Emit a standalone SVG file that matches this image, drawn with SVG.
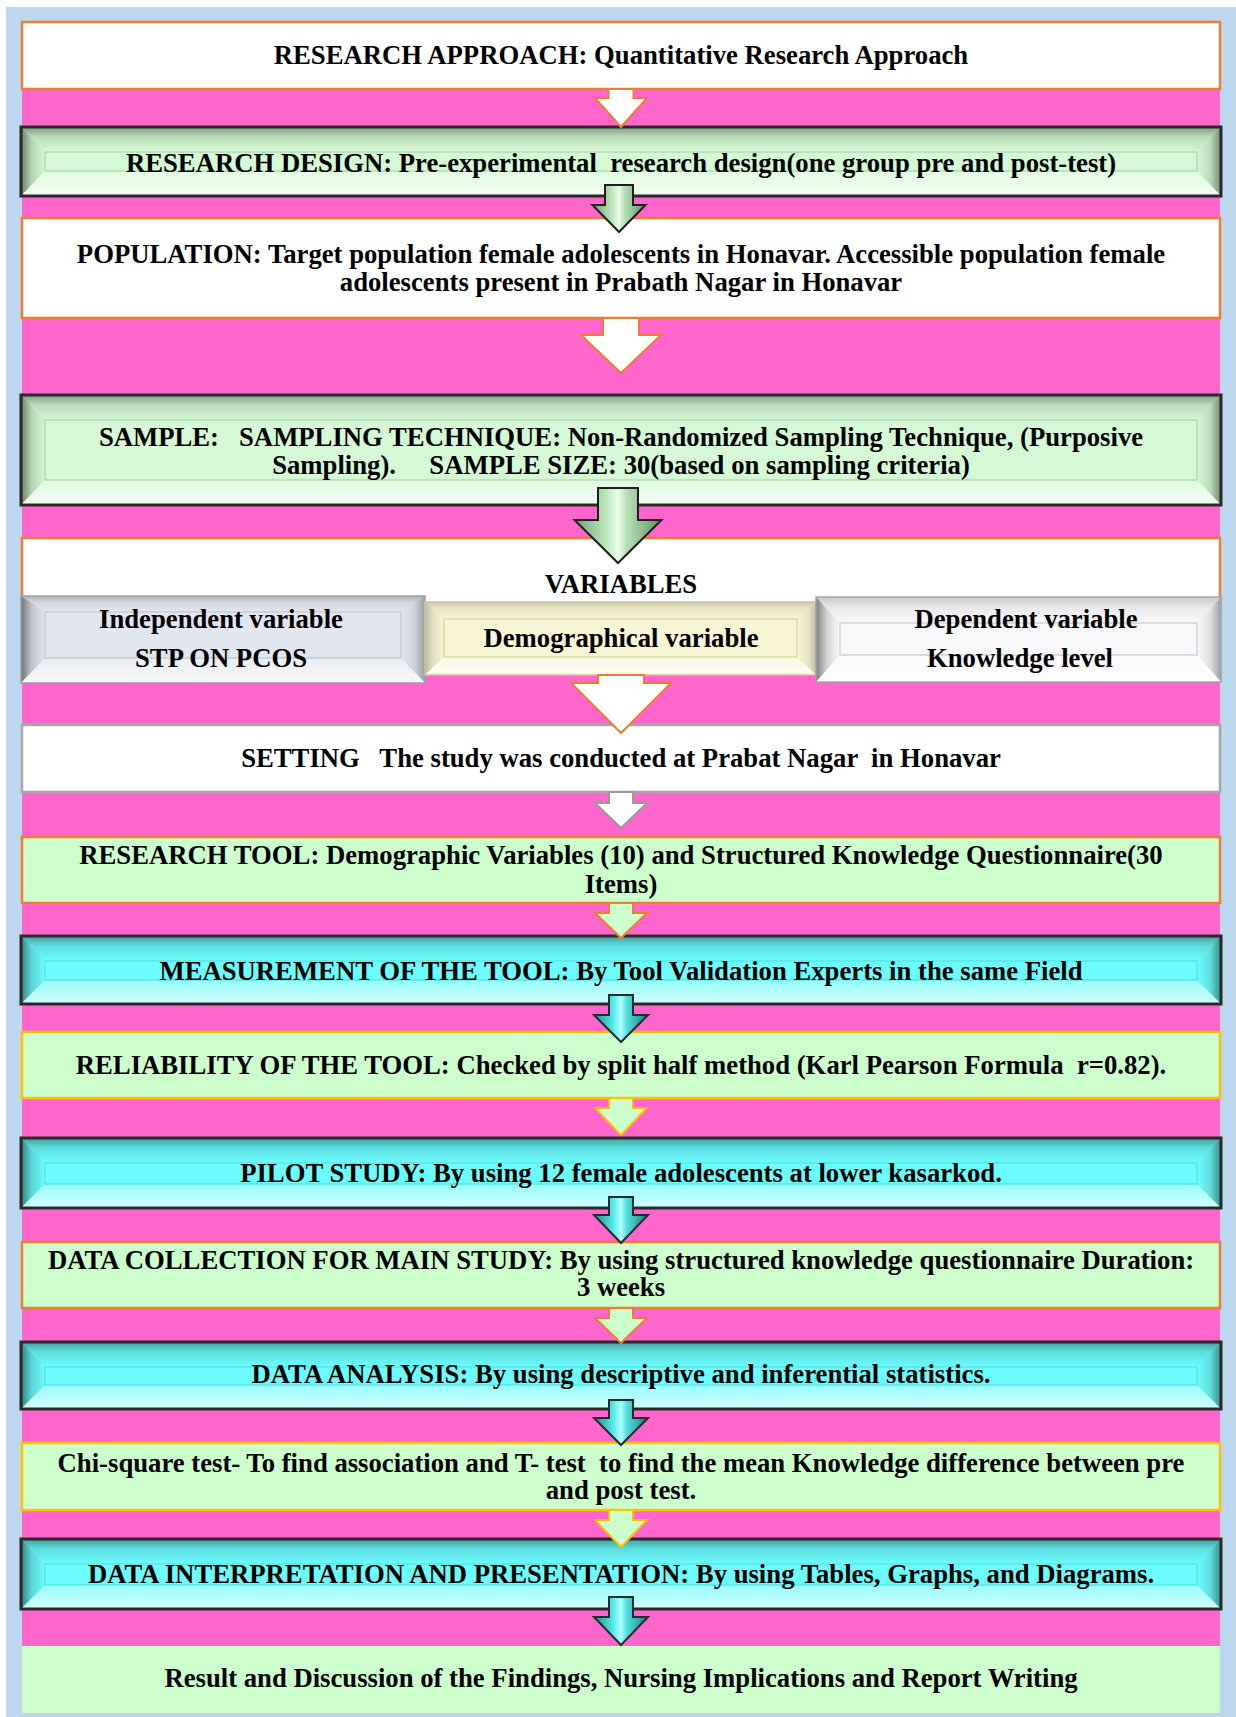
<svg xmlns="http://www.w3.org/2000/svg" width="1236" height="1717" viewBox="0 0 1236 1717">
<style>
.t{font-family:"Liberation Serif","Times New Roman",serif;font-weight:bold;font-size:26.7px;text-anchor:middle;fill:#000;white-space:pre}
.flat{stroke-width:2.5}
.w{fill:#ffffff}
.lg{fill:#ccffcc}
.or{stroke:#ed7d31}
.gd{stroke:#ffc000}
.gy{stroke:#a6a6a6}
.bout{fill:none;stroke:#2a2a2a;stroke-width:3}
.inner{fill:none;stroke-width:1.5}
.aw{fill:#ffffff;stroke:#ed7d31;stroke-width:2}
.awg{fill:#ffffff;stroke:#9a9a9a;stroke-width:2}
.alo{fill:#ccffcc;stroke:#ed7d31;stroke-width:2}
.aly{fill:#ccffcc;stroke:#ffc000;stroke-width:2}
.agr{fill:url(#arrG);stroke:#1e1e1e;stroke-width:2}
.acy{fill:url(#arrC);stroke:#1e2e2e;stroke-width:2}
</style>
<defs>
<linearGradient id="shTop" x1="0" y1="0" x2="0" y2="1"><stop offset="0" stop-color="#000" stop-opacity="0.38"/><stop offset="0.4" stop-color="#000" stop-opacity="0.12"/><stop offset="1" stop-color="#000" stop-opacity="0"/></linearGradient>
<linearGradient id="shLeft" x1="0" y1="0" x2="1" y2="0"><stop offset="0" stop-color="#000" stop-opacity="0.5"/><stop offset="0.45" stop-color="#000" stop-opacity="0.15"/><stop offset="1" stop-color="#000" stop-opacity="0"/></linearGradient>
<linearGradient id="shRight" x1="1" y1="0" x2="0" y2="0"><stop offset="0" stop-color="#000" stop-opacity="0.45"/><stop offset="0.45" stop-color="#000" stop-opacity="0.12"/><stop offset="1" stop-color="#000" stop-opacity="0"/></linearGradient>
<linearGradient id="shBot" x1="0" y1="1" x2="0" y2="0"><stop offset="0" stop-color="#fff" stop-opacity="0.7"/><stop offset="1" stop-color="#fff" stop-opacity="0.3"/></linearGradient>
<linearGradient id="arrG" x1="0" y1="0" x2="1" y2="0"><stop offset="0" stop-color="#6f9f6f"/><stop offset="0.35" stop-color="#b8e4b8"/><stop offset="0.5" stop-color="#e8ffe8"/><stop offset="0.6" stop-color="#b8e0b8"/><stop offset="1" stop-color="#5f8f5f"/></linearGradient>
<linearGradient id="arrC" x1="0" y1="0" x2="1" y2="0"><stop offset="0" stop-color="#1f8a8a"/><stop offset="0.35" stop-color="#55e8e8"/><stop offset="0.5" stop-color="#b0ffff"/><stop offset="0.6" stop-color="#55e0e0"/><stop offset="1" stop-color="#1a7a7a"/></linearGradient>
</defs>

<rect x="6" y="7" width="1230" height="1710" fill="#bdd7ee"/>
<rect x="22" y="89" width="1198" height="1557" fill="#ff66cc"/>

<g id="nodes">
<g id="research-approach">
<rect x="22" y="22" width="1198" height="67" class="flat w or"/>
<text x="621" y="64" class="t">RESEARCH APPROACH: Quantitative Research Approach</text>
</g>

<g id="research-design">
<rect x="21" y="127" width="1200" height="69" fill="#d4f9d4"/>
<polygon points="21,127 1221,127 1197,152 45,152" fill="url(#shTop)"/>
<polygon points="21,127 45,152 45,171 21,196" fill="url(#shLeft)"/>
<polygon points="1221,127 1197,152 1197,171 1221,196" fill="url(#shRight)"/>
<polygon points="21,196 1221,196 1197,171 45,171" fill="url(#shBot)"/>
<rect x="45" y="152" width="1152" height="19" class="inner" stroke="#b4dcb4"/>
<rect x="21" y="127" width="1200" height="69" class="bout"/>
<text x="621" y="172" class="t" xml:space="preserve">RESEARCH DESIGN: Pre-experimental  research design(one group pre and post-test)</text>
</g>

<g id="population">
<rect x="22" y="218" width="1198" height="100" class="flat w or"/>
<text x="621" y="263" class="t">POPULATION: Target population female adolescents in Honavar. Accessible population female</text>
<text x="621" y="291" class="t">adolescents present in Prabath Nagar in Honavar</text>
</g>

<g id="sample">
<rect x="21" y="395" width="1200" height="110" fill="#d4f9d4"/>
<polygon points="21,395 1221,395 1197,420 45,420" fill="url(#shTop)"/>
<polygon points="21,395 45,420 45,480 21,505" fill="url(#shLeft)"/>
<polygon points="1221,395 1197,420 1197,480 1221,505" fill="url(#shRight)"/>
<polygon points="21,505 1221,505 1197,480 45,480" fill="url(#shBot)"/>
<rect x="45" y="420" width="1152" height="60" class="inner" stroke="#b4dcb4"/>
<rect x="21" y="395" width="1200" height="110" class="bout"/>
<text x="621" y="446" class="t" xml:space="preserve">SAMPLE:   SAMPLING TECHNIQUE: Non-Randomized Sampling Technique, (Purposive</text>
<text x="621" y="474" class="t" xml:space="preserve">Sampling).     SAMPLE SIZE: 30(based on sampling criteria)</text>
</g>

<g id="variables">
<rect x="22" y="538" width="1198" height="70" class="flat w or"/>
<text x="621" y="593" class="t">VARIABLES</text>
</g>

<g id="independent-variable">
<rect x="21" y="596" width="404" height="87" fill="#e2e6ee"/>
<polygon points="21,596 425,596 401,612 45,612" fill="url(#shTop)" opacity="0.6"/>
<polygon points="21,596 45,612 45,658 21,683" fill="url(#shLeft)"/>
<polygon points="425,596 401,612 401,658 425,683" fill="url(#shRight)" opacity="0.7"/>
<polygon points="21,683 425,683 401,658 45,658" fill="url(#shBot)"/>
<rect x="45" y="612" width="356" height="46" class="inner" stroke="#c8ccd4"/>
<rect x="21" y="596" width="404" height="87" fill="none" stroke="#9aa0aa" stroke-width="1.5"/>
<text x="221" y="628" class="t">Independent variable</text>
<text x="221" y="667" class="t">STP ON PCOS</text>
</g>

<g id="demographical-variable">
<rect x="425" y="602" width="391" height="73" fill="#f8f5d4"/>
<polygon points="425,602 816,602 797,619 444,619" fill="url(#shTop)" opacity="0.5"/>
<polygon points="425,602 444,619 444,657 425,675" fill="url(#shLeft)" opacity="0.5"/>
<polygon points="816,602 797,619 797,657 816,675" fill="url(#shRight)" opacity="0.5"/>
<polygon points="425,675 816,675 797,657 444,657" fill="url(#shBot)"/>
<rect x="444" y="619" width="353" height="38" class="inner" stroke="#dcd6a8"/>
<rect x="425" y="602" width="391" height="73" fill="none" stroke="#c8c4a0" stroke-width="1.5"/>
<text x="621" y="647" class="t">Demographical variable</text>
</g>

<g id="dependent-variable">
<rect x="816" y="597" width="405" height="85" fill="#f8f8fa"/>
<polygon points="816,597 1221,597 1197,623 840,623" fill="url(#shTop)" opacity="0.5"/>
<polygon points="816,597 840,623 840,655 816,682" fill="url(#shLeft)"/>
<polygon points="1221,597 1197,623 1197,655 1221,682" fill="url(#shRight)" opacity="0.8"/>
<polygon points="816,682 1221,682 1197,655 840,655" fill="url(#shBot)"/>
<rect x="840" y="623" width="357" height="32" class="inner" stroke="#d0d2d8"/>
<rect x="816" y="597" width="405" height="85" fill="none" stroke="#a0a4ac" stroke-width="1.5"/>
<text x="1026" y="628" class="t">Dependent variable</text>
<text x="1020" y="667" class="t">Knowledge level</text>
</g>

<g id="setting">
<rect x="22" y="725" width="1198" height="67" class="flat w gy"/>
<text x="621" y="767" class="t" xml:space="preserve">SETTING   The study was conducted at Prabat Nagar  in Honavar</text>
</g>

<g id="research-tool">
<rect x="22" y="837" width="1198" height="66" class="flat lg or"/>
<text x="621" y="864" class="t">RESEARCH TOOL: Demographic Variables (10) and Structured Knowledge Questionnaire(30</text>
<text x="621" y="893" class="t">Items)</text>
</g>

<g id="measurement">
<rect x="21" y="936" width="1200" height="68" fill="#6cfcfc"/>
<polygon points="21,936 1221,936 1197,961 45,961" fill="url(#shTop)"/>
<polygon points="21,936 45,961 45,980 21,1004" fill="url(#shLeft)"/>
<polygon points="1221,936 1197,961 1197,980 1221,1004" fill="url(#shRight)"/>
<polygon points="21,1004 1221,1004 1197,980 45,980" fill="url(#shBot)"/>
<rect x="45" y="961" width="1152" height="19" class="inner" stroke="#5ae6e6"/>
<rect x="21" y="936" width="1200" height="68" class="bout"/>
<text x="621" y="980" class="t">MEASUREMENT OF THE TOOL: By Tool Validation Experts in the same Field</text>
</g>

<g id="reliability">
<rect x="22" y="1032" width="1198" height="66" class="flat lg gd"/>
<text x="621" y="1074" class="t" xml:space="preserve">RELIABILITY OF THE TOOL: Checked by split half method (Karl Pearson Formula  r=0.82).</text>
</g>

<g id="pilot-study">
<rect x="21" y="1138" width="1200" height="70" fill="#6cfcfc"/>
<polygon points="21,1138 1221,1138 1197,1163 45,1163" fill="url(#shTop)"/>
<polygon points="21,1138 45,1163 45,1184 21,1208" fill="url(#shLeft)"/>
<polygon points="1221,1138 1197,1163 1197,1184 1221,1208" fill="url(#shRight)"/>
<polygon points="21,1208 1221,1208 1197,1184 45,1184" fill="url(#shBot)"/>
<rect x="45" y="1163" width="1152" height="21" class="inner" stroke="#5ae6e6"/>
<rect x="21" y="1138" width="1200" height="70" class="bout"/>
<text x="621" y="1182" class="t">PILOT STUDY: By using 12 female adolescents at lower kasarkod.</text>
</g>

<g id="data-collection">
<rect x="22" y="1242" width="1198" height="66" class="flat lg or"/>
<text x="621" y="1269" class="t">DATA COLLECTION FOR MAIN STUDY: By using structured knowledge questionnaire Duration:</text>
<text x="621" y="1296" class="t">3 weeks</text>
</g>

<g id="data-analysis">
<rect x="21" y="1342" width="1200" height="67" fill="#6cfcfc"/>
<polygon points="21,1342 1221,1342 1197,1367 45,1367" fill="url(#shTop)"/>
<polygon points="21,1342 45,1367 45,1385 21,1409" fill="url(#shLeft)"/>
<polygon points="1221,1342 1197,1367 1197,1385 1221,1409" fill="url(#shRight)"/>
<polygon points="21,1409 1221,1409 1197,1385 45,1385" fill="url(#shBot)"/>
<rect x="45" y="1367" width="1152" height="18" class="inner" stroke="#5ae6e6"/>
<rect x="21" y="1342" width="1200" height="67" class="bout"/>
<text x="621" y="1383" class="t">DATA ANALYSIS: By using descriptive and inferential statistics.</text>
</g>

<g id="chi-square">
<rect x="22" y="1443" width="1198" height="67" class="flat lg gd"/>
<text x="621" y="1472" class="t" xml:space="preserve">Chi-square test- To find association and T- test  to find the mean Knowledge difference between pre</text>
<text x="621" y="1499" class="t">and post test.</text>
</g>

<g id="data-interpretation">
<rect x="21" y="1539" width="1200" height="70" fill="#6cfcfc"/>
<polygon points="21,1539 1221,1539 1197,1564 45,1564" fill="url(#shTop)"/>
<polygon points="21,1539 45,1564 45,1585 21,1609" fill="url(#shLeft)"/>
<polygon points="1221,1539 1197,1564 1197,1585 1221,1609" fill="url(#shRight)"/>
<polygon points="21,1609 1221,1609 1197,1585 45,1585" fill="url(#shBot)"/>
<rect x="45" y="1564" width="1152" height="21" class="inner" stroke="#5ae6e6"/>
<rect x="21" y="1539" width="1200" height="70" class="bout"/>
<text x="621" y="1583" class="t">DATA INTERPRETATION AND PRESENTATION: By using Tables, Graphs, and Diagrams.</text>
</g>

<g id="result">
<rect x="22" y="1646" width="1198" height="67" class="lg"/>
<text x="621" y="1687" class="t">Result and Discussion of the Findings, Nursing Implications and Report Writing</text>
</g>
</g>

<g id="connectors">
<path class="aw" d="M608.5,89 H633.5 V98 H647 L621,127 L595,98 H608.5 Z"/>
<path class="agr" d="M605,185 H633 V205 H645.5 L619,232 L592.5,205 H605 Z"/>
<path class="aw" d="M603,318 H639 V335 H661 L621,373 L581,335 H603 Z"/>
<path class="agr" d="M598,488 H638 V520 H661.5 L618,563 L574.5,520 H598 Z"/>
<path class="aw" d="M598,675 H644 V683 H671 L621,733 L571,683 H598 Z"/>
<path class="awg" d="M609,792 H633 V803 H647 L621,828 L595,803 H609 Z"/>
<path class="alo" d="M609,903 H633 V913 H647 L621,938 L595,913 H609 Z"/>
<path class="acy" d="M609,995 H633 V1015 H648 L621,1042 L594,1015 H609 Z"/>
<path class="aly" d="M609,1098 H633 V1108 H647 L621,1135 L595,1108 H609 Z"/>
<path class="acy" d="M609,1197 H633 V1215 H648 L621,1243 L594,1215 H609 Z"/>
<path class="alo" d="M609,1308 H633 V1318 H647 L621,1343 L595,1318 H609 Z"/>
<path class="acy" d="M609,1400 H633 V1418 H648 L621,1445 L594,1418 H609 Z"/>
<path class="aly" d="M609,1510 H633 V1520 H647 L621,1547 L595,1520 H609 Z"/>
<path class="acy" d="M609,1597 H633 V1617 H648 L621,1645 L594,1617 H609 Z"/>
</g>
</svg>
